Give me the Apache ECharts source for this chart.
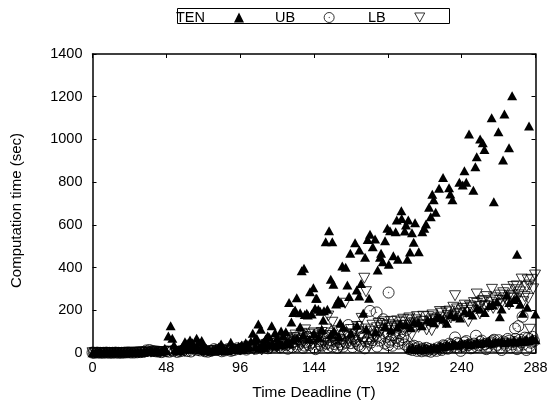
<!DOCTYPE html>
<html><head><meta charset="utf-8">
<style>html,body{margin:0;padding:0;background:#fff}#c{width:551px;height:405px}</style>
<script src="https://cdn.jsdelivr.net/npm/echarts@6/dist/echarts.min.js"></script>
</head><body><div id="c"></div>
<script>
const xTicks = [0,48,96,144,192,240,288];
const yTicks = [0,200,400,600,800,1000,1200,1400];
const tenPoints = [[0,1],[2,1],[4,1],[6,1],[8,2],[10,1],[12,1],[14,2],[16,1],[18,2],[20,1],[22,2],[24,2],[26,3],[28,2],[30,3],[32,4],[34,6],[36,9],[38,12],[40,8],[42,10],[44,7],[46,14],[47,22],[49.3,80],[50.8,128],[51.9,69],[53,37],[54,18],[56,12],[58,24],[60.1,53],[61.5,44],[63.4,61],[65,48],[66,30],[67.7,69],[69,52],[71,58],[72,36],[74,22],[76,15],[78,12],[80,20],[82,28],[83.6,42],[85,24],[87,18],[89.9,50],[91,30],[93,24],[95,32],[97,38],[99.6,48],[101,40],[103,55],[104.2,92],[105.5,62],[106.8,69],[107.8,136],[109.4,111],[111,50],[112.5,66],[113.9,81],[115,74],[116.5,128],[118.7,95],[120,70],[122.6,103],[124,82],[125.7,100],[127.8,237],[129.3,145],[130.5,190],[131.7,201],[132.8,259],[135,123],[135,189],[136,385],[137.5,397],[138,180],[139.3,186],[140,178],[141.4,287],[142.5,183],[143.6,306],[144.7,209],[145.3,256],[145.8,256],[146.8,205],[148,196],[150,155],[150.5,198],[152.7,205],[153.8,572],[151.6,521],[154.9,345],[155.9,521],[156.6,322],[158.4,229],[159.8,248],[161,142],[161.6,235],[162.4,407],[164.6,401],[165.7,318],[166.8,264],[167.6,467],[170.7,516],[171.8,295],[173.4,267],[173.5,482],[174.6,326],[176,186],[177.2,448],[178.9,532],[179.8,256],[180.4,556],[182.2,498],[183.7,534],[185.4,389],[186.9,448],[187.6,467],[188.7,427],[190.2,526],[191.7,584],[192.6,415],[193.4,572],[195.6,455],[197.1,568],[197.8,623],[198.6,439],[200.8,666],[201,630],[203,571],[203.8,599],[204.7,439],[205.3,623],[206.4,473],[207.7,563],[208.8,518],[209.7,610],[212.1,474],[214.4,568],[215.7,584],[216.8,604],[218.8,682],[219.9,638],[220.9,743],[221.8,718],[223.1,659],[225.3,771],[227.9,822],[231.8,774],[232.6,744],[234,718],[238.5,799],[240.7,787],[241.8,853],[243,799],[244.8,1025],[247.6,762],[248.9,872],[249.8,919],[252,1002],[253.7,985],[254.8,953],[259.5,1102],[260.9,708],[263.9,1036],[266.9,904],[267.8,1119],[270.8,961],[272.8,1205],[283.8,1063],[275.8,257],[269.3,272],[264.8,170],[279.7,186],[282.6,214],[287.9,183],[230.3,139],[276,462],[198,120],[204,132],[212,140],[220,150],[226,165],[236,172],[245,190],[252,205],[258,222],[263,240],[274,250]];
const tenLow = [[1,1],[3,1],[5,2],[7,1],[9,1],[11,2],[13,1],[15,1],[17,2],[19,1],[21,1],[23,2],[25,3],[27,2],[29,4],[31,5],[33,4],[35,8],[37,6],[39,7],[41,5],[43,8],[45,6],[48,10],[55,9],[57,14],[59,20],[62,26],[64,18],[68,24],[70,16],[73,12],[75,9],[77,8],[79,14],[81,10],[84,16],[86,12],[88,10],[90,18],[92,15],[94,20],[96,22],[98,16],[100,24],[102,28],[106,30],[108,22],[110,34],[112,26],[114,36],[117,44],[119,32],[121,48],[123,38],[126,52],[128,44],[130,60],[133,70],[137,84],[141,64],[144,90],[147,72],[149,110],[155,88],[157,104],[160,76],[163,120],[168,92],[172,130],[178,112],[184,98],[190,124],[194,108],[200,136],[207,118],[209,146],[214,128],[218,154],[222,142],[224,170],[228,158],[233,180],[239,164],[242,196],[247,178],[250,212],[255,190],[260,226],[266,206],[271,236],[278,228],[206,20],[208,24],[210,16],[212,22],[214,18],[216,26],[218,20],[220,24],[222,28],[224,22],[226,34],[228,30],[230,38],[232,34],[234,42],[236,40],[238,36],[240,46],[242,42],[244,48],[246,40],[248,46],[250,52],[252,44],[254,50],[256,48],[258,56],[260,46],[262,54],[264,50],[266,58],[268,48],[270,56],[272,52],[274,60],[276,50],[278,62],[280,54],[282,66],[284,56],[286,70],[288,62]];
const ubPoints = [[0,2],[1,1],[3,2],[5,1],[7,1],[9,2],[11,1],[13,1],[15,2],[17,1],[19,1],[21,2],[23,3],[25,2],[27,2],[29,3],[31,4],[33,5],[35,12],[37,14],[39,10],[41,8],[43,6],[45,4],[48,8],[50,6],[52,10],[55,5],[57,8],[59,12],[62,9],[64,7],[68,15],[70,12],[73,8],[75,6],[77,10],[79,18],[81,14],[84,8],[86,12],[88,18],[90,10],[92,14],[94,22],[96,18],[98,26],[100,16],[102,24],[104,30],[106,20],[108,34],[110,28],[112,38],[114,22],[116,44],[118,30],[120,50],[122,26],[124,42],[126,36],[128,64],[130,28],[132,72],[134,40],[136,58],[138,34],[140,76],[142,48],[144,26],[146,88],[148,38],[150,62],[152,44],[154,92],[156,30],[158,70],[160,52],[162,40],[164,84],[166.3,131],[168,46],[170,68],[172.8,123],[174,32],[176,78],[178,54],[180.4,197],[182,60],[184.7,190],[186,72],[188,136],[189,158],[190,44],[192.3,37],[192.5,283],[194,62],[196,84],[198.8,56],[200,92],[202,74],[204,108],[205,30],[206,18],[207.5,30],[208,14],[209,34],[210,22],[211,10],[212,28],[213,16],[214,8],[215,20],[216,12],[217,24],[218,10],[219,18],[220,6],[222,16],[223.7,10],[225,26],[227,14],[229,32],[231,20],[233,38],[235.7,73],[236,26],[238,42],[239.4,10],[240,30],[242,50],[244,36],[246,22],[248,44],[249.3,81],[250,28],[252,52],[254,34],[256,18],[258,46],[260,56],[262,30],[264,60],[266,14],[268,44],[270,66],[272,26],[274,52],[274.7,115],[276,18],[276.8,126],[278,62],[279.6,170],[280,40],[282,14],[283,70],[285,48],[286,76],[287,56]];
const ubExtra = [[127,20],[129,46],[131,54],[133,30],[135,66],[137,24],[139,52],[141,38],[143,70],[145,18],[147,56],[149,34],[151,78],[153,26],[155,60],[157,42],[159,24],[161,64],[163,30],[165,48],[167,72],[169,28],[171,56],[173,38],[175,92],[177,22],[179,66],[181,48],[183,82],[185,30],[187,58],[191,76],[193,52],[195,34],[197,70],[199,44],[201,62],[203,40],[226,20],[228,36],[230,24],[232,44],[234,30],[237,48],[241,34],[243,56],[245,40],[247,26],[251,36],[253,58],[255,42],[257,30],[259,50],[261,62],[263,38],[265,24],[267,54],[269,34],[271,58],[273,40],[275,66],[277,34],[279,50],[281,72],[284,30]];
const lbPoints = [[0,1],[1.5,1],[3,1],[4.5,2],[6,1],[8,1],[10,2],[12,1],[14,1],[16,2],[18,1],[20,1],[22,2],[24,1],[26,2],[28,2],[30,2],[32,3],[34,4],[36,5],[38,4],[40,6],[42,5],[44,4],[46,6],[48,5],[51,7],[54,6],[57,8],[60,7],[63,10],[66,9],[69,11],[72,8],[75,10],[78,9],[81,12],[84,10],[87,14],[90,12],[93,16],[96,14],[99,18],[102,22],[105,16],[108,26],[111,30],[114,24],[117,34],[120,28],[123,46],[126,38],[128,66],[130,52],[132,84],[134,48],[136,92],[138.2,108],[140,70],[142,54],[144,94],[146,62],[148,80],[150,46],[152,112],[153.3,173],[155.9,144],[158,58],[160.9,22],[162,96],[164.2,233],[166,76],[168,110],[170,60],[172,124],[175,162],[176.7,350],[177.8,287],[179.8,30],[181,102],[183,84],[185,118],[187,96],[189,128],[191,88],[193,132],[195,104],[197,126],[199.9,116],[201,144],[203,112],[205.3,155],[207.5,84],[208,136],[210.7,155],[212,120],[214,148],[216,132],[217.2,108],[218.3,170],[220.5,105],[222,160],[224,138],[225.9,194],[228,150],[229.6,142],[231,176],[233,164],[234.6,214],[236,182],[238.9,186],[241.1,209],[243,190],[244.3,147],[245.4,220],[247,200],[248,236],[249.8,276],[251.9,183],[253,240],[255,222],[256.2,264],[257.3,217],[259.7,298],[260.5,209],[262,248],[264.9,271],[266,232],[268,258],[269.3,298],[270.8,225],[272,262],[273.6,311],[275.8,314],[277,272],[279,346],[280.1,240],[282.3,311],[282.9,342],[283.3,256],[284.4,111],[285.5,345],[286.5,300],[287.7,365],[235.7,268]];
const lbExtra = [[2,1],[5,1],[7,2],[9,1],[11,1],[13,2],[15,1],[17,1],[19,2],[21,1],[23,2],[25,2],[27,3],[29,3],[31,3],[110,14],[113,40],[116,20],[119,46],[122,24],[125,58],[127,30],[129,72],[131,36],[133,60],[135,42],[137,76],[139,32],[141,88],[143,40],[145,72],[147,28],[149,96],[151,52],[153,36],[155,82],[157,48],[159,104],[161,62],[163,44],[165,90],[167,54],[169,86],[171,38],[173,100],[174,70],[176,48],[178,112],[180,64],[182,130],[184,76],[186,138],[188,106],[190,146],[192,116],[194,148],[196,122],[198,150],[200,130],[202,158],[204,128],[206,164],[209,142],[211,170],[213,130],[215,172],[219,150],[221,178],[223,156],[226,168],[227,186],[230,192],[232,196],[235,172],[237,206],[240,198],[242,224],[246,212],[250,232],[252,218],[254,246],[258,238],[261,258],[263,226],[265,246],[267,282],[271,270],[274,256],[276,296],[278,286],[281,264],[284,318]];

const ubSymbol = 'path://M10 0A10 10 0 1 1 10 20A10 10 0 1 1 10 0ZM10 9.6A.4 .4 0 1 1 10 10.4A.4 .4 0 1 1 10 9.6Z';
const lbSymbol = 'path://M0 0L22 0L11 20Z';
const font = 'Liberation Sans';
const chart = echarts.init(document.getElementById('c'), null, {renderer:'canvas'});
const axisCommon = {min:0, splitLine:{show:false},
  axisLine:{show:true, onZero:false, lineStyle:{color:'#000',width:1.5}},
  axisTick:{show:true, inside:true, length:4, lineStyle:{color:'#000',width:1}}};
const legendAt = (name,left) => ({show:true, data:[name], left, top:10, align:'right', orient:'horizontal', padding:0,
  itemWidth:10, itemHeight:10, itemGap:0, selectedMode:false, itemStyle:{borderWidth:0.8},
  textStyle:{fontFamily:font, fontSize:14.5, color:'#000', padding:[2,24,0,0]}});
chart.setOption({
  animation:false, backgroundColor:'#fff',
  textStyle:{fontFamily:font},
  graphic:[{type:'rect', z:-1, shape:{x:177.5,y:8.5,width:272,height:15}, style:{fill:'#fff',stroke:'#000',lineWidth:1}}],
  legend:[legendAt('TEN',176), legendAt('UB',275), legendAt('LB',368)],
  grid:{left:92.5, right:15.5, top:54, bottom:52, containLabel:false, outerBoundsMode:'none'},
  xAxis:[
    {...axisCommon, type:'value', max:288, interval:48, position:'bottom',
     name:'Time Deadline (T)', nameLocation:'middle', nameGap:32,
     nameTextStyle:{fontFamily:font,fontSize:15.5,color:'#000'},
     axisLabel:{fontFamily:font,fontSize:14.5,color:'#000',margin:7,
       formatter:v=>xTicks.includes(v)?String(v):''}},
    {...axisCommon, type:'value', max:288, interval:48, position:'top', axisLabel:{show:false}}
  ],
  yAxis:[
    {...axisCommon, type:'value', max:1400, interval:200, position:'left',
     name:'Computation time (sec)', nameLocation:'middle', nameGap:68,
     nameTextStyle:{fontFamily:font,fontSize:15,color:'#000',padding:[0,14,0,0]},
     axisLabel:{fontFamily:font,fontSize:14.5,color:'#000',margin:10,
       formatter:v=>yTicks.includes(v)?String(v):''}},
    {...axisCommon, type:'value', max:1400, interval:200, position:'right', axisLabel:{show:false}}
  ],
  series:[
    {name:'TEN', type:'scatter', data:tenPoints.concat(tenLow), clip:false, symbol:'triangle', symbolSize:[10,9],
     itemStyle:{color:'#000',opacity:1}},
    {name:'UB', type:'scatter', data:ubPoints.concat(ubExtra), clip:false, symbol:ubSymbol, symbolSize:11,
     itemStyle:{color:'rgba(0,0,0,0)',borderColor:'#000',borderWidth:0.8,opacity:1}},
    {name:'LB', type:'scatter', data:lbPoints.concat(lbExtra), clip:false, symbol:lbSymbol, symbolSize:[11,10],
     itemStyle:{color:'rgba(0,0,0,0)',borderColor:'#000',borderWidth:0.8,opacity:1}}
  ]
});
</script></body></html>
